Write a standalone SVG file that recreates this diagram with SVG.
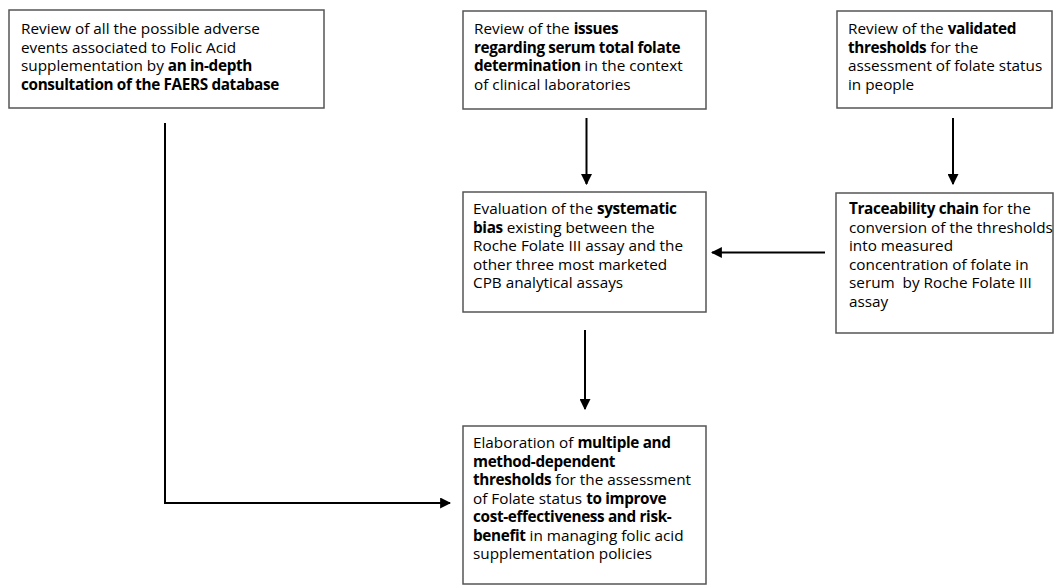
<svg xmlns="http://www.w3.org/2000/svg" width="1056" height="585" viewBox="0 0 1056 585">
<style>
.box{fill:#fff;stroke:#555;stroke-width:1.5}
.t{font-family:"Open Sans","Noto Sans",sans-serif;font-size:15.3px;fill:#000}
.b{font-weight:bold;letter-spacing:-0.35px}
.c{stroke:#000;stroke-width:2;fill:none}
</style>
<defs>
<marker id="ah" viewBox="0 0 10 10" refX="9" refY="5" markerWidth="5.5" markerHeight="5.5" orient="auto" markerUnits="strokeWidth">
<path d="M0,0 L10,5 L0,10 z" fill="#000"/>
</marker>
</defs>
<rect width="1056" height="585" fill="#fff"/>
<g id="connectors">
<line class="c" x1="586.5" y1="118" x2="586.5" y2="184" marker-end="url(#ah)"/>
<line class="c" x1="953" y1="118" x2="953" y2="184" marker-end="url(#ah)"/>
<line class="c" x1="825" y1="252.5" x2="712" y2="252.5" marker-end="url(#ah)"/>
<line class="c" x1="585" y1="330" x2="585" y2="409" marker-end="url(#ah)"/>
<polyline class="c" points="165,123 165,503 450,503" marker-end="url(#ah)"/>
</g>
<g id="n1">
<rect class="box" x="9" y="10" width="315" height="98"/>
<text class="t" x="21"><tspan x="21" y="34">Review of all the possible adverse</tspan><tspan x="21" y="52.5">events associated to Folic Acid</tspan><tspan x="21" y="71">supplementation by <tspan class="b">an in-depth</tspan></tspan><tspan x="21" y="89.5" class="b">consultation of the FAERS database</tspan></text>
</g>
<g id="n2">
<rect class="box" x="463" y="11" width="243" height="98"/>
<text class="t"><tspan x="474" y="34">Review of the <tspan class="b">issues</tspan></tspan><tspan x="474" y="52.5" class="b">regarding serum total folate</tspan><tspan x="474" y="71"><tspan class="b">determination</tspan> in the context</tspan><tspan x="474" y="89.5">of clinical laboratories</tspan></text>
</g>
<g id="n3">
<rect class="box" x="837" y="11" width="215" height="97"/>
<text class="t"><tspan x="848" y="34">Review of the <tspan class="b">validated</tspan></tspan><tspan x="848" y="52.5"><tspan class="b">thresholds</tspan> for the</tspan><tspan x="848" y="71">assessment of folate status</tspan><tspan x="848" y="89.5">in people</tspan></text>
</g>
<g id="n4">
<rect class="box" x="463" y="192" width="243" height="120"/>
<text class="t"><tspan x="473" y="214">Evaluation of the <tspan class="b">systematic</tspan></tspan><tspan x="473" y="232.5"><tspan class="b">bias</tspan> existing between the</tspan><tspan x="473" y="251">Roche Folate III assay and the</tspan><tspan x="473" y="269.5">other three most marketed</tspan><tspan x="473" y="288">CPB analytical assays</tspan></text>
</g>
<g id="n5">
<rect class="box" x="836" y="193" width="217" height="140"/>
<text class="t"><tspan x="849" y="214"><tspan class="b">Traceability chain</tspan> for the</tspan><tspan x="849" y="232.5">conversion of the thresholds</tspan><tspan x="849" y="251">into measured</tspan><tspan x="849" y="269.5">concentration of folate in</tspan><tspan x="849" y="288" xml:space="preserve">serum  by Roche Folate III</tspan><tspan x="849" y="306.5">assay</tspan></text>
</g>
<g id="n6">
<rect class="box" x="463" y="426" width="243" height="158"/>
<text class="t"><tspan x="473" y="448">Elaboration of <tspan class="b">multiple and</tspan></tspan><tspan x="473" y="466.5" class="b">method-dependent</tspan><tspan x="473" y="485"><tspan class="b">thresholds</tspan> for the assessment</tspan><tspan x="473" y="503.5">of Folate status <tspan class="b">to improve</tspan></tspan><tspan x="473" y="522" class="b">cost-effectiveness and risk-</tspan><tspan x="473" y="540.5"><tspan class="b">benefit</tspan> in managing folic acid</tspan><tspan x="473" y="559">supplementation policies</tspan></text>
</g>
</svg>
